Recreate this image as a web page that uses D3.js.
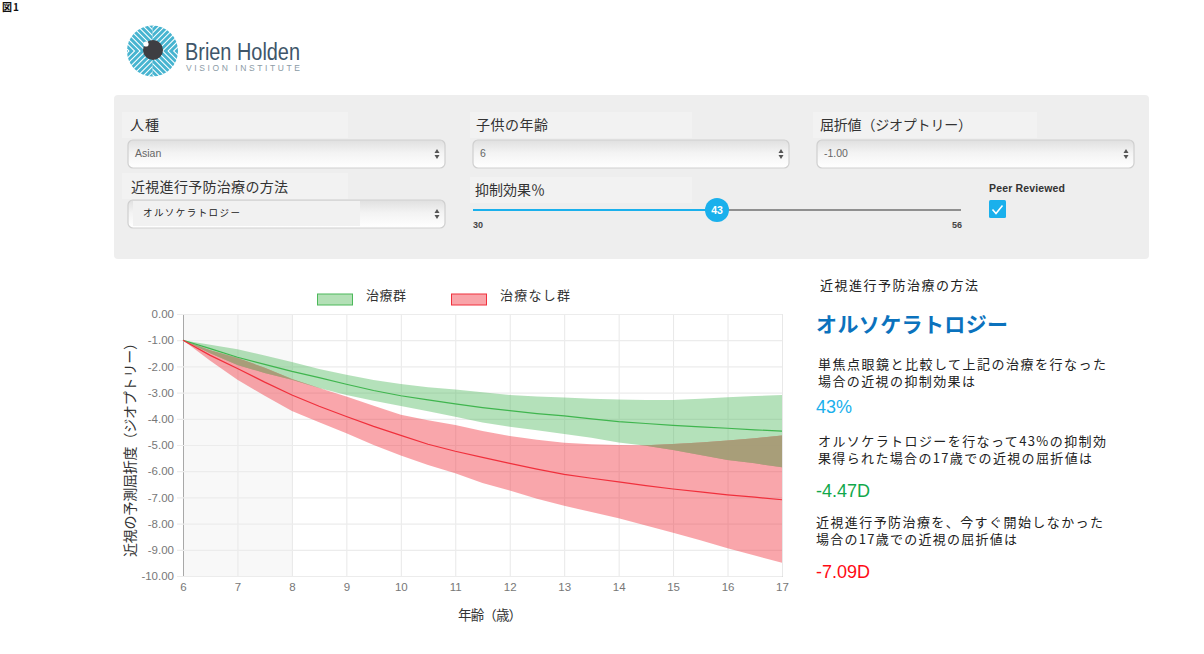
<!DOCTYPE html>
<html lang="ja">
<head>
<meta charset="utf-8">
<title>近視進行予防治療</title>
<script src="https://d3js.org/d3.v7.min.js"></script>
<style>
  html, body { margin: 0; padding: 0; background: #fff; }
  svg { display: block; }
  text { font-family: "Noto Sans CJK JP", "Liberation Sans", sans-serif; }
  .latin { font-family: "Liberation Sans", Arial, sans-serif; }
  .tick text { font-family: "Liberation Sans", Arial, sans-serif; font-size: 11.5px; fill: #777; }
</style>
</head>
<body>
<script>
// chart data
var ages = [6, 6.5, 7, 7.5, 8, 8.5, 9, 9.5, 10, 10.5, 11, 11.5, 12, 12.5, 13, 13.5, 14, 14.5, 15, 15.5, 16, 16.5, 17];
var treatedMid = [-1, -1.32, -1.65, -1.92, -2.19, -2.43, -2.68, -2.92, -3.12, -3.28, -3.43, -3.57, -3.69, -3.80, -3.89, -4.00, -4.11, -4.18, -4.25, -4.31, -4.36, -4.42, -4.47];
var treatedHigh = [-1, -1.17, -1.35, -1.58, -1.83, -2.10, -2.32, -2.52, -2.67, -2.80, -2.88, -2.99, -3.09, -3.15, -3.19, -3.23, -3.26, -3.28, -3.28, -3.23, -3.18, -3.13, -3.09];
var treatedLow = [-1, -1.50, -1.95, -2.25, -2.51, -2.82, -3.09, -3.31, -3.51, -3.71, -3.92, -4.14, -4.30, -4.44, -4.58, -4.72, -4.90, -5.03, -5.19, -5.38, -5.57, -5.70, -5.85];
var untreatedMid = [-1, -1.58, -2.08, -2.60, -3.09, -3.52, -3.91, -4.29, -4.63, -4.97, -5.24, -5.47, -5.70, -5.92, -6.12, -6.27, -6.41, -6.55, -6.68, -6.79, -6.90, -6.99, -7.09];
var untreatedHigh = [-1, -1.38, -1.68, -2.05, -2.48, -2.82, -3.15, -3.50, -3.85, -4.06, -4.24, -4.47, -4.66, -4.80, -4.91, -4.97, -5.00, -5.01, -4.96, -4.90, -4.83, -4.74, -4.64];
var untreatedLow = [-1, -1.78, -2.51, -3.12, -3.70, -4.13, -4.55, -5.00, -5.40, -5.76, -6.08, -6.45, -6.74, -7.05, -7.32, -7.56, -7.80, -8.07, -8.35, -8.64, -8.94, -9.22, -9.49];
var xTicks = [6, 7, 8, 9, 10, 11, 12, 13, 14, 15, 16, 17];
var yTicks = [0, -1, -2, -3, -4, -5, -6, -7, -8, -9, -10];

var svg = d3.select("body").append("svg").attr("width", 1204).attr("height", 654);
var defs = svg.append("defs");

// text helper, textLength keeps the widths the same as the original
function label(x, y, str, size, color, len, cls, weight) {
    var t = svg.append("text").attr("x", x).attr("y", y).text(str)
        .attr("font-size", size).attr("fill", color);
    if (len) t.attr("textLength", len).attr("lengthAdjust", "spacing");
    if (cls) t.attr("class", cls);
    if (weight) t.attr("font-weight", weight);
    return t;
}

label(2, 11, "図1", 10, "#111", 17, null, 700);

// ---- logo
var logo = svg.append("g");
defs.append("clipPath").attr("id", "logoClip").append("circle").attr("cx", 152.5).attr("cy", 51).attr("r", 25.5);
var stripes = logo.append("g").attr("clip-path", "url(#logoClip)");
stripes.append("rect").attr("x", 125).attr("y", 22).attr("width", 58).attr("height", 58).attr("fill", "#fff");
[[126, 25, 1], [152.5, 25, -1], [126, 51, -1], [152.5, 51, 1]].forEach(function (q) {
    var g = stripes.append("g");
    defs.append("clipPath").attr("id", "q" + q[0] + q[1]).append("rect")
        .attr("x", q[0]).attr("y", q[1]).attr("width", 26.5).attr("height", 26);
    g.attr("clip-path", "url(#q" + q[0] + q[1] + ")");
    d3.range(-60, 60, 5.6).forEach(function (o) {
        g.append("line")
            .attr("x1", 152.5 + o - 40).attr("x2", 152.5 + o + 40)
            .attr("y1", 51 - 40 * q[2]).attr("y2", 51 + 40 * q[2])
            .attr("stroke", "#47b4d0").attr("stroke-width", 2.9);
    });
});
logo.append("circle").attr("cx", 153).attr("cy", 50).attr("r", 10).attr("fill", "#3e3e42");
logo.append("circle").attr("cx", 146).attr("cy", 44).attr("r", 2.6).attr("fill", "#fff");
svg.append("text").attr("class", "latin").attr("x", 185).attr("y", 60).text("Brien Holden")
    .attr("font-size", 23).attr("fill", "#40566a")
    .attr("textLength", 115).attr("lengthAdjust", "spacingAndGlyphs");
svg.append("text").attr("class", "latin").attr("x", 186).attr("y", 71).text("VISION INSTITUTE")
    .attr("font-size", 8.5).attr("fill", "#8c9ba6")
    .attr("textLength", 114).attr("lengthAdjust", "spacing");

// ---- control panel
svg.append("rect").attr("x", 114).attr("y", 95).attr("width", 1035).attr("height", 164)
    .attr("rx", 4).attr("fill", "#eeeeee");

var grad = defs.append("linearGradient").attr("id", "selectFill").attr("x1", 0).attr("y1", 0).attr("x2", 0).attr("y2", 1);
grad.append("stop").attr("offset", "0").attr("stop-color", "#e0e0e0");
grad.append("stop").attr("offset", "0.45").attr("stop-color", "#f3f3f3");
grad.append("stop").attr("offset", "1").attr("stop-color", "#ffffff");

function labelBox(x, y, w) {
    svg.append("rect").attr("x", x).attr("y", y).attr("width", w).attr("height", 26).attr("fill", "#f2f2f2");
}
function selectBox(x, y, w) {
    svg.append("rect").attr("x", x).attr("y", y).attr("width", w).attr("height", 28)
        .attr("rx", 5).attr("fill", "url(#selectFill)").attr("stroke", "#cfcfcf").attr("stroke-width", 1.2);
    var ax = x + w - 8;
    svg.append("path").attr("d", "M" + (ax - 2.5) + "," + (y + 13) + "l2.5,-4l2.5,4z").attr("fill", "#555");
    svg.append("path").attr("d", "M" + (ax - 2.5) + "," + (y + 15) + "l2.5,4l2.5,-4z").attr("fill", "#555");
}

labelBox(122, 112, 226);
labelBox(470, 112, 222);
labelBox(813, 112, 224);
labelBox(122, 173, 226);
labelBox(470, 177, 222);

label(130, 130, "人種", 14, "#333", 29);
label(476, 130, "子供の年齢", 14, "#333", 72);
label(820, 130, "屈折値（ジオプトリー）", 14, "#333", 152);
label(131, 192, "近視進行予防治療の方法", 14, "#333", 157);
label(475, 195, "抑制効果％", 14, "#333", 70);

selectBox(128, 140, 317);
selectBox(473, 140, 316);
selectBox(817, 140, 317);
selectBox(128, 200, 317);

label(135, 157, "Asian", 10.5, "#666", null, "latin");
label(480, 157, "6", 10.5, "#666", null, "latin");
label(824, 157, "-1.00", 10.5, "#666", null, "latin");
svg.append("rect").attr("x", 133).attr("y", 201).attr("width", 227).attr("height", 25).attr("fill", "#f1f1f1");
label(143, 216, "オルソケラトロジー", 9.5, "#222", 97);

// slider
var sliderX = d3.scaleLinear().domain([30, 56]).range([473, 961]);
svg.append("line").attr("x1", sliderX(30)).attr("x2", sliderX(56)).attr("y1", 210).attr("y2", 210)
    .attr("stroke", "#8f8f8f").attr("stroke-width", 2);
svg.append("line").attr("x1", sliderX(30)).attr("x2", sliderX(43)).attr("y1", 210).attr("y2", 210)
    .attr("stroke", "#1ab0ec").attr("stroke-width", 2);
svg.append("circle").attr("cx", 717).attr("cy", 210).attr("r", 12).attr("fill", "#1ab0ec");
label(717, 214, "43", 10.5, "#fff", null, "latin", 700).attr("text-anchor", "middle");
label(473, 228, "30", 9, "#444", null, "latin", 700);
label(952, 228, "56", 9, "#444", null, "latin", 700);
label(989, 192, "Peer Reviewed", 10.5, "#333", 76, "latin", 700);
svg.append("rect").attr("x", 989).attr("y", 200).attr("width", 17).attr("height", 18).attr("rx", 1.5).attr("fill", "#1ab0ec");
svg.append("path").attr("d", "M992.5,209.5l3.5,4l6.5,-8").attr("fill", "none").attr("stroke", "#fff").attr("stroke-width", 1.6);

// ---- chart
var x = d3.scaleLinear().domain([6, 17]).range([183, 782]);
var y = d3.scaleLinear().domain([0, -10]).range([314, 576]);

svg.append("rect").attr("x", x(6)).attr("y", y(0)).attr("width", x(8) - x(6)).attr("height", y(-10) - y(0))
    .attr("fill", "#f8f8f8");

var gridX = svg.append("g").attr("transform", "translate(0," + y(-10) + ")")
    .call(d3.axisBottom(x).tickValues(xTicks).tickSize(-(y(-10) - y(0))).tickPadding(7).tickFormat(d3.format("d")));
var gridY = svg.append("g").attr("transform", "translate(" + x(6) + ",0)")
    .call(d3.axisLeft(y).tickValues(yTicks).tickSize(0).tickPadding(9).tickFormat(function (d) { return d.toFixed(2); }));
gridY.selectAll(".tick").append("line").attr("x1", -6).attr("x2", x(17) - x(6)).attr("stroke", "#ececec").attr("stroke-width", 1.2);
gridX.selectAll(".tick line").attr("stroke", "#e8e8e8");
gridX.select(".domain").attr("stroke", "#d0d0d0");
gridY.select(".domain").attr("stroke", "#a8a8a8");
gridX.selectAll(".tick").filter(function (d) { return d === 6; }).select("line").attr("stroke", "#a8a8a8");
gridY.selectAll(".tick").filter(function (d) { return d === 0 || d === -10; }).select("line").attr("stroke", "#d4d4d4");

var bandArea = d3.area()
    .x(function (d) { return x(d.age); })
    .y0(function (d) { return y(d.low); })
    .y1(function (d) { return y(d.high); });
var midLine = d3.line()
    .x(function (d) { return x(d.age); })
    .y(function (d) { return y(d.mid); });

var series = [
    { mid: treatedMid, high: treatedHigh, low: treatedLow, fill: "#4cb85a", stroke: "#3fb54e" },
    { mid: untreatedMid, high: untreatedHigh, low: untreatedLow, fill: "#f0303c", stroke: "#f0303c" }
];
var rows = series.map(function (s) {
    return ages.map(function (a, i) { return { age: a, mid: s.mid[i], high: s.high[i], low: s.low[i] }; });
});
var plot = svg.append("g");
// translucent bands so the grid shows through, the overlap gets its own fill
plot.selectAll("path.band").data(rows).enter().append("path").attr("class", "band")
    .attr("d", bandArea)
    .attr("fill", function (d, i) { return series[i].fill; })
    .attr("fill-opacity", function (d, i) { return i === 0 ? 0.42 : 0.43; });
defs.append("clipPath").attr("id", "redClip").append("path").attr("d", bandArea(rows[1]));
plot.append("path").attr("d", bandArea(rows[0])).attr("clip-path", "url(#redClip)")
    .attr("fill", "#a59e78").attr("fill-opacity", 0.93);
plot.selectAll("path.mid").data(rows).enter().append("path").attr("class", "mid")
    .attr("d", midLine).attr("fill", "none")
    .attr("stroke", function (d, i) { return series[i].stroke; }).attr("stroke-width", 1.2);

// legend
svg.append("rect").attr("x", 317.5).attr("y", 294).attr("width", 35).attr("height", 11)
    .attr("fill", "#b3e0b6").attr("stroke", "#4cb85a");
label(366, 300, "治療群", 13, "#333", 40);
svg.append("rect").attr("x", 451.5).attr("y", 294).attr("width", 35).attr("height", 11)
    .attr("fill", "#f9a4a9").attr("stroke", "#f0303c");
label(500, 300, "治療なし群", 13, "#333", 70);

// axis titles
svg.append("text").attr("transform", "translate(135,557) rotate(-90)").text("近視の予測屈折度（ジオプトリー）")
    .attr("font-size", 14).attr("fill", "#333").attr("textLength", 221).attr("lengthAdjust", "spacing");
label(458, 620, "年齢（歳）", 13.5, "#333", 64);

// ---- right column
label(820, 290, "近視進行予防治療の方法", 13, "#222", 158);
label(816, 332, "オルソケラトロジー", 21, "#0b72bd", 192, null, 700);
label(818, 369, "単焦点眼鏡と比較して上記の治療を行なった", 13, "#222", 288);
label(818, 386, "場合の近視の抑制効果は", 13, "#222", 157);
label(816, 413, "43%", 18, "#1ab0ec", null, "latin");
label(818, 446, "オルソケラトロジーを行なって43%の抑制効", 13, "#222", 288);
label(818, 463, "果得られた場合の17歳での近視の屈折値は", 13, "#222", 274);
label(816, 497, "-4.47D", 18, "#12a84b", null, "latin");
label(816, 527, "近視進行予防治療を、今すぐ開始しなかった", 13, "#222", 287);
label(816, 544, "場合の17歳での近視の屈折値は", 13, "#222", 201);
label(816, 578, "-7.09D", 18, "#ff0a14", null, "latin");
</script>
</body>
</html>
